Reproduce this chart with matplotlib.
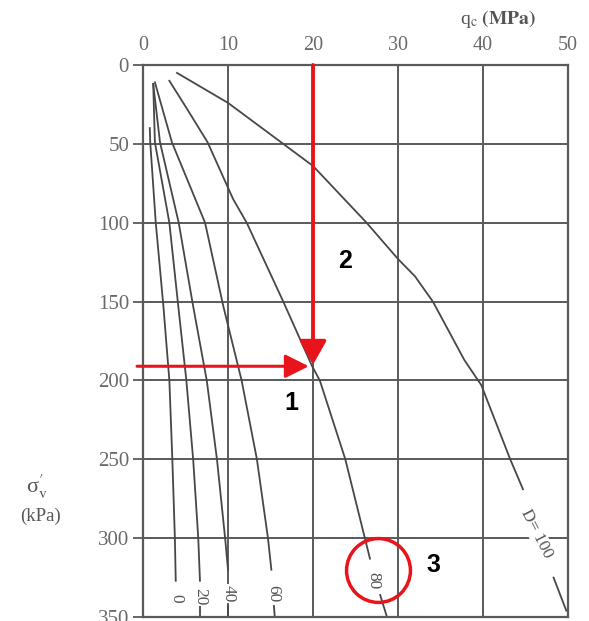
import matplotlib.pyplot as plt

plt.rcParams['mathtext.fontset'] = 'stix'
plt.rcParams['font.family'] = ['Liberation Serif', 'DejaVu Serif']

# curves of q_c (MPa) against sigma'_v (kPa), one per relative density D
d0_sig = [40, 49, 100, 153, 200, 250, 300, 327]
d0_qc = [0.8, 0.85, 1.5, 2.4, 3.1, 3.45, 3.75, 3.85]
d20_sig = [12, 49, 100, 153, 200, 250, 300, 327]
d20_qc = [1.2, 1.4, 3.1, 4.15, 5.1, 5.9, 6.5, 6.7]
d40_sig = [12, 49, 100, 153, 200, 250, 300, 320]
d40_qc = [1.2, 2.0, 4.2, 5.9, 7.5, 8.7, 9.66, 10.0]
d60_sig = [11, 49, 100, 153, 200, 250, 300, 320]
d60_qc = [1.4, 3.4, 7.3, 9.45, 11.6, 13.4, 14.7, 15.1]
d80_sig = [10, 28, 49, 85, 100, 150, 191, 200, 250, 300, 313]
d80_qc = [3.1, 5.2, 7.6, 10.6, 12.2, 16.5, 19.9, 20.8, 23.8, 26.1, 26.7]
d100_sig = [5, 24, 28, 58, 64, 100, 123, 134, 150, 187, 203, 250, 269]
d100_qc = [4.0, 10.0, 11.0, 18.5, 20.0, 26.3, 30.0, 32.0, 34.1, 37.8, 39.8, 43.2, 44.7]

# bits of curve showing again below the labels
tail_sig = [[343, 350], [343, 350], [343, 350], [336, 350], [325, 346]]
tail_qc = [[6.75, 6.75], [10.0, 10.0], [15.4, 15.5], [27.9, 28.7], [48.3, 49.8]]

labels = ['0', '20', '40', '60', '80', 'D= 100']
label_qc = [3.9, 6.75, 10.1, 15.3, 27.1, 46.3]
label_sig = [338, 337, 335, 335, 327, 297]
label_rot = [-90, -90, -90, -90, -90, -63]

# worked example: read q_c = 20 MPa, sigma'_v = 191 kPa
read_qc = 20
read_sig = 191
circle_qc, circle_sig = 27.6, 320.5

fig = plt.figure(figsize=(5.89, 6.21), dpi=100)
ax = fig.add_axes([0.2428, 0.0064, 0.7216, 0.8889])

gray = '#5a5a5a'
for y in range(50, 350, 50):
  ax.axhline(y, color=gray, lw=1.4, zorder=1)
for x in range(10, 50, 10):
  ax.axvline(x, color=gray, lw=1.4, zorder=1)

curve_col = '#474747'
for q, s in [(d0_qc, d0_sig), (d20_qc, d20_sig), (d40_qc, d40_sig),
             (d60_qc, d60_sig), (d80_qc, d80_sig), (d100_qc, d100_sig)]:
  ax.plot(q, s, color=curve_col, lw=1.3, zorder=2)
for q, s in zip(tail_qc, tail_sig):
  ax.plot(q, s, color=curve_col, lw=1.3, zorder=2)

for t, q, s, r in zip(labels, label_qc, label_sig, label_rot):
  ax.text(q, s, t, rotation=r, ha='center', va='center', fontsize=12.5,
          color='#555555', zorder=3, rotation_mode='anchor',
          bbox=dict(facecolor='white', edgecolor='none', pad=0.5))

ax.set_xlim(0, 50)
ax.set_ylim(350, 0)
ax.xaxis.tick_top()
ax.set_xticks(range(0, 51, 10))
ax.set_yticks(range(0, 351, 50))
ax.tick_params(axis='x', length=0, pad=7, labelsize=14.5, labelcolor='#6a6a6a')
ax.tick_params(axis='y', length=7, width=1.3, color=gray, pad=3, labelsize=15,
               labelcolor='#6a6a6a')
for sp in ax.spines.values():
  sp.set_color(gray)
  sp.set_linewidth(1.6)

red = '#e8141c'
ax.annotate('', xy=(read_qc - 0.5, read_sig), xytext=(-0.7, read_sig),
            arrowprops=dict(arrowstyle='-|>,head_length=0.6,head_width=0.3',
                            color=red, lw=2.2, mutation_scale=24,
                            shrinkA=0, shrinkB=0), annotation_clip=False, zorder=5)
ax.annotate('', xy=(read_qc, read_sig - 1), xytext=(read_qc, 0),
            arrowprops=dict(arrowstyle='-|>,head_length=0.6,head_width=0.34',
                            color=red, lw=2.8, mutation_scale=24,
                            shrinkA=0, shrinkB=0), annotation_clip=False, zorder=5)
ax.plot([circle_qc], [circle_sig], 'o', ms=46, mfc='none', mec=red, mew=2.5,
        clip_on=False, zorder=5)

for t, q, s in [('1', 17.5, 214), ('2', 23.8, 124), ('3', 34.2, 317)]:
  ax.text(q, s, t, ha='center', va='center', fontsize=18, fontweight='bold',
          family='Liberation Sans', color='black', zorder=6)

fig.text(0.845, 0.969, r'q$_\mathrm{c}$ $\mathbf{(MPa)}$', ha='center', va='center',
         fontsize=14, color='#555555')
fig.text(0.063, 0.216, r"σ$^{\prime}_{\mathrm{v}}$", ha='center', va='center',
         fontsize=16, color='#555555')
fig.text(0.068, 0.168, '(kPa)', ha='center', va='center', fontsize=13.5,
         color='#555555')

fig.savefig('out.png', dpi=100)
